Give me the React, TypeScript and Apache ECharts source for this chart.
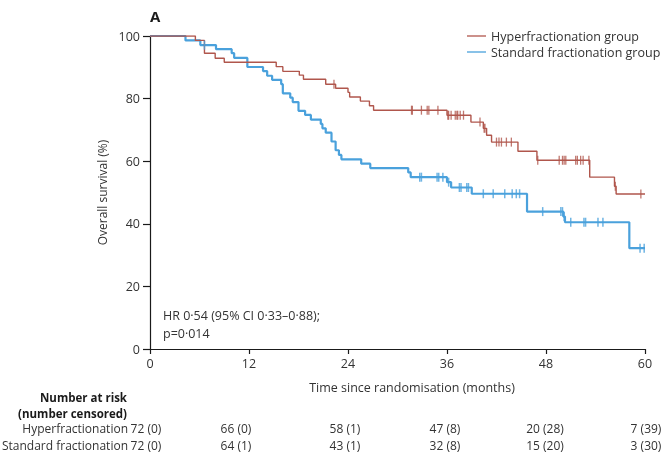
import React, { useEffect, useRef } from "react";
import * as echarts from "echarts";

// Kaplan–Meier steps (months, overall survival %)
const hyperTimes = [0, 5.5, 6.6, 7.9, 9.0, 15.3, 16.1, 18.1, 18.6, 21.3, 22.5, 24.0, 24.2, 25.5, 26.6, 27.1, 36.0, 38.9, 40.4, 40.8, 41.4, 44.6, 46.9, 53.3, 56.3, 56.5, 60];
const hyperSurv = [100, 98.6, 94.5, 92.9, 91.6, 90.2, 88.7, 87.5, 86.2, 84.6, 83.3, 82.0, 80.5, 79.2, 77.7, 76.3, 74.7, 72.5, 70.5, 68.3, 66.1, 63.2, 60.3, 54.9, 52.0, 49.5, 49.5];
const hyperCensor = [22.3, 31.7, 31.8, 32.9, 33.6, 33.8, 34.9, 36.1, 36.2, 36.5, 37.0, 37.2, 37.3, 37.6, 38.0, 40.0, 40.5, 40.6, 42.0, 42.3, 42.6, 43.2, 43.8, 47.0, 49.6, 50.0, 50.2, 50.4, 51.6, 51.8, 52.2, 52.5, 53.2, 56.4, 59.5];

const stdTimes = [0, 4.3, 6.1, 8.0, 9.9, 10.2, 11.8, 13.7, 14.2, 14.8, 15.9, 16.1, 17.0, 17.3, 18.0, 18.8, 19.5, 20.7, 20.9, 21.3, 22.0, 22.5, 22.9, 23.2, 25.6, 26.7, 31.3, 31.6, 36.0, 36.5, 39.0, 45.7, 50.1, 50.3, 58.1, 60];
const stdSurv = [100, 98.6, 97.1, 95.8, 94.5, 93.0, 90.1, 88.8, 87.3, 86.0, 84.6, 81.7, 80.3, 78.9, 76.1, 74.8, 73.3, 71.9, 70.5, 69.1, 66.3, 63.5, 62.0, 60.6, 59.2, 57.8, 56.4, 54.9, 53.3, 51.6, 49.6, 43.9, 42.3, 40.5, 32.2, 32.2];
const stdCensor = [6.6, 32.7, 32.9, 34.8, 35.0, 35.5, 36.2, 37.5, 37.7, 38.4, 38.6, 40.4, 41.6, 43.0, 43.9, 44.4, 44.8, 47.6, 49.8, 50.0, 50.2, 51.0, 52.6, 52.8, 54.3, 54.9, 59.4, 59.9];

const seriesNames = ["Hyperfractionation group", "Standard fractionation group"];
const riskMonths = [0, 12, 24, 36, 48, 60];
const riskRowLabels = ["Hyperfractionation", "Standard fractionation"];
const hyperAtRisk = ["72 (0)", "66 (0)", "58 (1)", "47 (8)", "20 (28)", "7 (39)"];
const stdAtRisk = ["72 (0)", "64 (1)", "43 (1)", "32 (8)", "15 (20)", "3 (30)"];
const hrLines = ["HR 0·54 (95% CI 0·33–0·88);", "p=0·014"];
const xAxisTitle = "Time since randomisation (months)";
const yAxisTitle = "Overall survival (%)";

const RED = "#b0564c";
const BLUE = "#4aa1dc";
const FONT = "Open Sans";
const TXT = "#333333";

function levelAt(times: number[], surv: number[], t: number) {
  let v = surv[0];
  for (let i = 0; i < times.length; i++) if (times[i] <= t) v = surv[i];
  return v;
}

export default function App() {
  const ref = useRef<HTMLDivElement>(null);
  useEffect(() => {
    if (!ref.current) return;
    const chart = echarts.init(ref.current, undefined, { renderer: "svg" });
    const option: any = {
      animation: false,
      textStyle: { fontFamily: FONT },
      grid: { left: 150, right: 18, top: 36, bottom: 126, outerBoundsMode: "none", containLabel: false },
      legend: {
        data: seriesNames,
        orient: "vertical",
        left: 467,
        top: 29,
        padding: 0,
        icon: "rect",
        itemWidth: 19,
        itemHeight: 1.3,
        itemGap: 2,
        textStyle: { fontFamily: FONT, fontSize: 12.5, color: TXT, lineHeight: 14 },
      },
      xAxis: {
        type: "value",
        min: 0,
        max: 60,
        interval: 12,
        axisLine: { lineStyle: { color: "#1a1a1a", width: 1.2 } },
        axisTick: { length: 5, lineStyle: { color: "#1a1a1a", width: 1.2 } },
        axisLabel: { fontFamily: FONT, fontSize: 12.5, color: TXT, margin: 8 },
        splitLine: { show: false },
      },
      yAxis: {
        type: "value",
        min: 0,
        max: 100,
        interval: 20,
        name: yAxisTitle,
        nameLocation: "middle",
        nameGap: 42,
        nameRotate: 90,
        nameMoveOverlap: false,
        nameTextStyle: { fontFamily: FONT, fontSize: 12, color: TXT },
        axisLine: { show: true, lineStyle: { color: "#1a1a1a", width: 1.2 } },
        axisTick: { show: true, length: 7, lineStyle: { color: "#1a1a1a", width: 1.2 } },
        axisLabel: { fontFamily: FONT, fontSize: 12.5, color: TXT, margin: 10 },
        splitLine: { show: false },
      },
      series: [
        {
          name: seriesNames[0],
          type: "line",
          step: "end",
          symbol: "none",
          lineStyle: { color: RED, width: 1.4 },
          itemStyle: { color: RED },
          data: hyperTimes.map((t, i) => [t, hyperSurv[i]]),
          z: 3,
        },
        {
          name: seriesNames[1],
          type: "line",
          step: "end",
          symbol: "none",
          lineStyle: { color: BLUE, width: 2.2 },
          itemStyle: { color: BLUE },
          data: stdTimes.map((t, i) => [t, stdSurv[i]]),
          z: 2,
        },
        {
          name: "hyperCensor",
          type: "scatter",
          symbol: "rect",
          symbolSize: [1.3, 9],
          itemStyle: { color: RED },
          data: hyperCensor.map((t) => [t, levelAt(hyperTimes, hyperSurv, t)]),
          z: 4,
          silent: true,
        },
        {
          name: "stdCensor",
          type: "scatter",
          symbol: "rect",
          symbolSize: [1.5, 9],
          itemStyle: { color: BLUE },
          data: stdCensor.map((t) => [t, levelAt(stdTimes, stdSurv, t)]),
          z: 4,
          silent: true,
        },
      ],
    };
    chart.setOption(option);

    const colOffsets = [-4, -13, -3, -2, -1, 1];
    const xs = riskMonths.map((m, i) => (chart.convertToPixel({ xAxisIndex: 0 }, m) as number) + colOffsets[i]);
    const baseText = { fontFamily: FONT, fontSize: 12, fill: TXT };
    const graphics: any[] = [
      { type: "text", left: 150, top: 8, style: { text: "A", fontFamily: FONT, fontSize: 15, fontWeight: "bold", fill: "#1a1a1a" } },
      { type: "text", x: 163, y: 315, style: { ...baseText, fontSize: 12.5, text: hrLines[0], verticalAlign: "middle" } },
      { type: "text", x: 163, y: 333, style: { ...baseText, fontSize: 12.5, text: hrLines[1], verticalAlign: "middle" } },
      { type: "text", x: 412, y: 387, style: { ...baseText, fontSize: 12.5, text: xAxisTitle, align: "center", verticalAlign: "middle" } },
      { type: "text", x: 127, y: 397, style: { ...baseText, fontSize: 11.5, text: "Number at risk", fontWeight: "bold", fill: "#1a1a1a", align: "right", verticalAlign: "middle" } },
      { type: "text", x: 127, y: 413, style: { ...baseText, fontSize: 11.5, text: "(number censored)", fontWeight: "bold", fill: "#1a1a1a", align: "right", verticalAlign: "middle" } },
    ];
    const rows = [hyperAtRisk, stdAtRisk];
    const rowY = [428, 445];
    rows.forEach((row, r) => {
      graphics.push({ type: "text", x: 128, y: rowY[r], style: { ...baseText, text: riskRowLabels[r], align: "right", verticalAlign: "middle" } });
      row.forEach((v, c) => {
        graphics.push({ type: "text", x: xs[c], y: rowY[r], style: { ...baseText, text: v, align: "center", verticalAlign: "middle" } });
      });
    });
    chart.setOption({ graphic: graphics });

    return () => chart.dispose();
  }, []);
  return <div ref={ref} style={{ position: "fixed", left: 0, top: 0, width: 663, height: 475 }} />;
}
